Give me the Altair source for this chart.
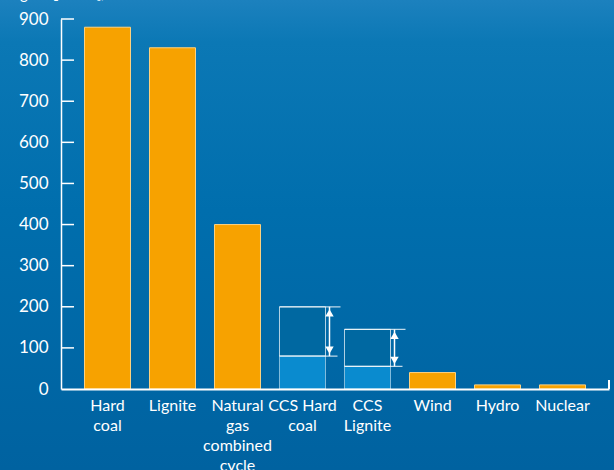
import altair as alt
import pandas as pd

# ---- data ----
categories = ["Hard|coal", "Lignite", "Natural|gas|combined|cycle", "CCS Hard|coal",
              "CCS|Lignite", "Wind", "Hydro", "Nuclear"]
plain_cats = ["Hard|coal", "Lignite", "Natural|gas|combined|cycle", "Wind", "Hydro", "Nuclear"]
plain_vals = [880, 830, 400, 40, 10, 10]
ccs_cats = ["CCS Hard|coal", "CCS|Lignite"]
ccs_low = [80, 55]
ccs_high = [200, 145]
y_ticks = [100, 200, 300, 400, 500, 600, 700, 800, 900]
y_labels = [0, 100, 200, 300, 400, 500, 600, 700, 800, 900]
unit_label = "g CO₂/kWhₑₗ"

plain_df = pd.DataFrame({"cat": plain_cats, "val": plain_vals})
ccs_df = pd.DataFrame({"cat": ccs_cats, "low": ccs_low, "high": ccs_high})
tick_df = pd.DataFrame({"t": y_ticks})
one = pd.DataFrame({"a": [0]})

FONT = "Lato"
W, H = 548, 370

xscale = alt.Scale(domain=categories, paddingInner=0.2923, paddingOuter=0.3615)
yscale = alt.Scale(domain=[0, 900], nice=False)

x_axis = alt.Axis(title=None, labelAngle=0, ticks=False, domain=True, domainColor="white",
                  domainWidth=2, labelColor="white", labelFont=FONT, labelFontSize=16,
                  labelPadding=8, labelLineHeight=20, labelBaseline="top", zindex=1,
                  labelExpr="split(datum.value, '|')")
y_axis = alt.Axis(title=None, values=y_labels,
                  ticks=False, grid=False, domain=True, domainColor="white", domainWidth=1.5,
                  labelColor="white", labelFont=FONT, labelFontSize=17, labelPadding=13,
                  zindex=1)


def X(**kw):
    return alt.X("cat:N", scale=xscale, axis=x_axis, sort=categories, **kw)


def Y(field):
    return alt.Y(field, scale=yscale, axis=y_axis)


bg = alt.Chart(one).mark_rect(
    color=alt.LinearGradient(
        gradient="linear", x1=0, x2=0, y1=0, y2=1,
        stops=[alt.GradientStop(offset=0, color="#1c81be"),
               alt.GradientStop(offset=0.09, color="#0b78b5"),
               alt.GradientStop(offset=0.45, color="#006ead"),
               alt.GradientStop(offset=1, color="#0062a0")]),
    clip=False,
).encode(x=alt.value(-61), x2=alt.value(W + 6), y=alt.value(-19), y2=alt.value(H + 81))

bars = alt.Chart(plain_df).mark_bar(color="#f7a200", stroke="#ffd27f", strokeWidth=1).encode(
    x=X(), y=Y("val:Q"),
)

ccs_lower = alt.Chart(ccs_df).mark_bar(color="#0a8bcf", stroke="white", strokeOpacity=0.5,
                                       strokeWidth=1).encode(
    x=X(), y=Y("low:Q"),
)

ccs_upper = alt.Chart(ccs_df).mark_bar(fill="#0068a1", stroke="white", strokeOpacity=0.7,
                                       strokeWidth=1).encode(
    x=X(), y=Y("low:Q"), y2="high:Q",
)

line_high = alt.Chart(ccs_df).mark_rule(color="white", opacity=0.75, strokeWidth=1.2,
                                        x2Offset=15).encode(
    x=X(bandPosition=0), x2=alt.X2("cat:N", bandPosition=1), y=Y("high:Q"),
)
line_low = alt.Chart(ccs_df).mark_rule(color="white", opacity=0.75, strokeWidth=1.2,
                                       x2Offset=12).encode(
    x=X(bandPosition=0), x2=alt.X2("cat:N", bandPosition=1), y=Y("low:Q"),
)

arrow_shaft = alt.Chart(ccs_df).mark_rule(color="white", strokeWidth=1.5, xOffset=4).encode(
    x=X(bandPosition=1), y=Y("low:Q"), y2="high:Q",
)
arrow_up = alt.Chart(ccs_df).mark_point(shape="triangle-up", filled=True, color="white",
                                        opacity=1, size=70, xOffset=4, yOffset=6).encode(
    x=X(bandPosition=1), y=Y("high:Q"),
)
arrow_down = alt.Chart(ccs_df).mark_point(shape="triangle-down", filled=True, color="white",
                                          opacity=1, size=70, xOffset=4, yOffset=-6).encode(
    x=X(bandPosition=1), y=Y("low:Q"),
)

ticks = alt.Chart(tick_df).mark_rule(color="white", strokeWidth=1.5).encode(
    x=alt.value(0), x2=alt.value(13), y=Y("t:Q"),
)

end_tick = alt.Chart(one).mark_rule(color="white", strokeWidth=2).encode(
    x=alt.value(W), y=alt.value(H), y2=alt.value(H - 9)
)

unit_text = alt.Chart(one).mark_text(align="left", baseline="bottom", fontSize=15,
                                     font=FONT, color="white").encode(
    x=alt.value(-41), y=alt.value(-17), text=alt.value(unit_label)
)

chart = alt.layer(
    bg, bars, ccs_upper, ccs_lower, line_high, line_low, arrow_shaft, arrow_up, arrow_down,
    ticks, end_tick, unit_text
).properties(
    width=W, height=H,
    autosize=alt.AutoSizeParams(type="none"),
    padding={"left": 61, "top": 19, "right": 5, "bottom": 81},
    background="#006aa8",
).configure_view(stroke=None)

chart.save("out.html", embed_options={"renderer": "svg", "actions": False})
